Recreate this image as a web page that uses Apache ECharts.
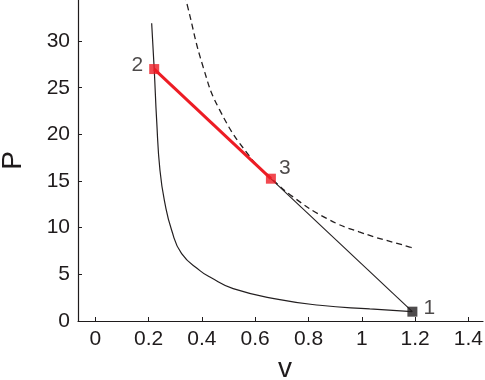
<!DOCTYPE html>
<html>
<head>
<meta charset="utf-8">
<script src="https://cdn.jsdelivr.net/npm/echarts@6/dist/echarts.min.js"></script>
<style>
html,body{margin:0;padding:0;background:#fff;}
#chart{width:485px;height:380px;}
</style>
</head>
<body>
<div id="chart"></div>
<script>
// Tick labels
const vTicks = [0, 0.2, 0.4, 0.6, 0.8, 1, 1.2, 1.4];
const pTicks = [0, 5, 10, 15, 20, 25, 30];

// Solid curve
const shockV = [0.2115, 0.2212, 0.2302, 0.2426, 0.2613, 0.2865, 0.324, 0.3926, 0.4301, 0.5174, 0.6925, 0.8425, 1.030, 1.189];
const shockP = [31.9, 26.9, 21.5, 16.15, 12.6, 9.72, 7.22, 5.4, 4.71, 3.47, 2.29, 1.69, 1.29, 1.0];

// Dashed curve
const detV = [0.336, 0.3456, 0.405, 0.467, 0.58, 0.66, 0.742, 0.868, 0.99, 1.18, 1.192];
const detP = [35.0, 33.8, 27.2, 22.6, 17.6, 15.3, 13.3, 11.0, 9.55, 7.93, 7.82];

// Labelled states
const stateNames = ['1', '2', '3'];
const stateV = [1.19, 0.221, 0.659];
const stateP = [1.0, 27.0, 15.25];

const txt = '#1f1b1c';
const font = 'Liberation Sans, Arial, Helvetica, sans-serif';

const zip = (a, b) => a.map((x, i) => [x, b[i]]);

const stateColor = ['#231f20', '#ed1c24', '#ed1c24'];
const labelPos = ['right', 'left', [13, -16]];
const labelOff = [[0, -3], [0, -4], [0, 0]];

const chart = echarts.init(document.getElementById('chart'), null, {renderer: 'canvas'});
chart.setOption({
  animation: false,
  backgroundColor: '#fff',
  grid: {left: 78, right: 2, top: 0, bottom: 59, outerBoundsMode: 'none', containLabel: false},
  xAxis: {
    type: 'value', min: -0.065, max: 1.455,
    name: 'v', nameLocation: 'middle', nameGap: 27,
    nameTextStyle: {fontSize: 28, color: txt, fontFamily: font, padding: [0, 0, 0, 9]},
    axisLine: {show: true, onZero: false, lineStyle: {color: txt, width: 1.2}},
    axisTick: {show: true, inside: true, length: 4, lineStyle: {color: txt, width: 1}, customValues: vTicks},
    axisLabel: {fontSize: 21, color: txt, fontFamily: font, margin: 8, customValues: vTicks, formatter: v => String(v)},
    splitLine: {show: false}
  },
  yAxis: {
    type: 'value', min: 0, max: 34.4,
    name: 'P', nameLocation: 'middle', nameGap: 51, nameRotate: 90,
    nameTextStyle: {fontSize: 28, color: txt, fontFamily: font},
    axisLine: {show: true, onZero: false, lineStyle: {color: txt, width: 1.2}},
    axisTick: {show: true, inside: true, length: 4, lineStyle: {color: txt, width: 1}, customValues: pTicks},
    axisLabel: {fontSize: 21, color: txt, fontFamily: font, margin: 8, customValues: pTicks},
    splitLine: {show: false}
  },
  series: [
    {
      type: 'line', data: zip(shockV, shockP), symbol: 'none', smooth: true,
      lineStyle: {color: '#231f20', width: 1.2}, clip: true, z: 2
    },
    {
      type: 'line', data: zip(detV, detP), symbol: 'none', smooth: true,
      lineStyle: {color: '#231f20', width: 1.3, type: [6, 4]}, clip: true, z: 2
    },
    {
      type: 'line', data: [[stateV[0], stateP[0]], [stateV[1], stateP[1]]], symbol: 'none',
      lineStyle: {color: '#231f20', width: 1.1}, z: 3
    },
    {
      type: 'line', data: [[stateV[1], stateP[1]], [stateV[2], stateP[2]]], symbol: 'none',
      lineStyle: {color: '#ed1c24', width: 3}, z: 4
    },
    {
      type: 'scatter', symbol: 'rect', symbolSize: 10, z: 5,
      data: stateNames.map((n, i) => ({
        value: [stateV[i], stateP[i]],
        itemStyle: {color: stateColor[i]},
        label: {show: true, formatter: n, position: labelPos[i], offset: labelOff[i], distance: 6, fontSize: 21, color: txt, fontFamily: font}
      }))
    }
  ]
});
</script>
</body>
</html>
